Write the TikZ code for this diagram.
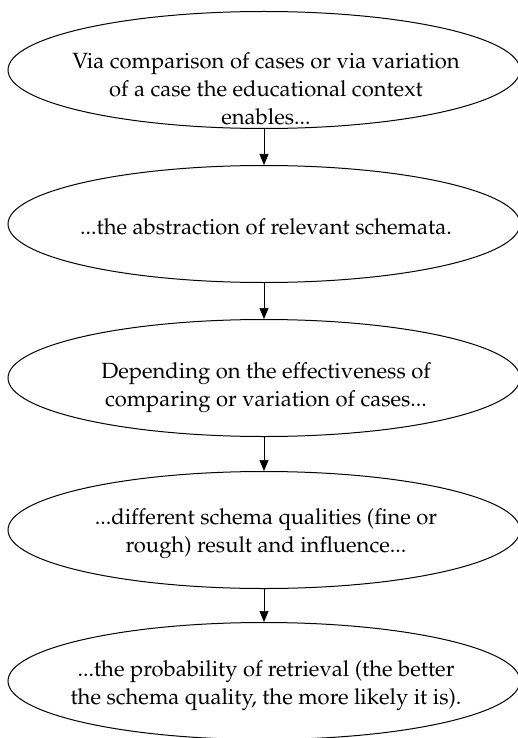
\documentclass[tikz,border=0pt]{standalone}
\usepackage[T1]{fontenc}
\usepackage{mathpazo}
\usetikzlibrary{shapes.geometric,arrows.meta}
\begin{document}
\begin{tikzpicture}[x=1pt,y=-1pt,
  oval/.style={ellipse,draw,line width=1pt,minimum width=512pt,minimum height=117pt,inner sep=0pt},
  txt/.style={align=center,font=\fontsize{22}{28}\selectfont,inner sep=0pt},
  arr/.style={-{Triangle[length=11pt,width=9pt]},line width=0.7pt}]
\useasboundingbox (0,0) rectangle (518,738);
\node[oval] (e1) at (264,70) {};
\node[oval] (e2) at (264,224) {};
\node[oval] (e3) at (264,378) {};
\node[oval] (e4) at (264,530) {};
\node[oval] (e5) at (264,681) {};
\node[txt] (t1) at (266,89) {Via comparison of cases or via variation\\of a case the educational context\\enables...};
\node[txt] (t2) at (266,227) {...the abstraction of relevant schemata.};
\node[txt] (t3) at (266,388) {Depending on the effectiveness of\\comparing or variation of cases...};
\node[txt] (t4) at (266,534) {...different schema qualities (fine or\\rough) result and influence...};
\node[txt] (t5) at (266,686) {...the probability of retrieval (the better\\the schema quality, the more likely it is).};
\draw[arr] (e1.south) -- (e2.north);
\draw[arr] (e2.south) -- (e3.north);
\draw[arr] (e3.south) -- (e4.north);
\draw[arr] (e4.south) -- (e5.north);
\end{tikzpicture}
\end{document}
